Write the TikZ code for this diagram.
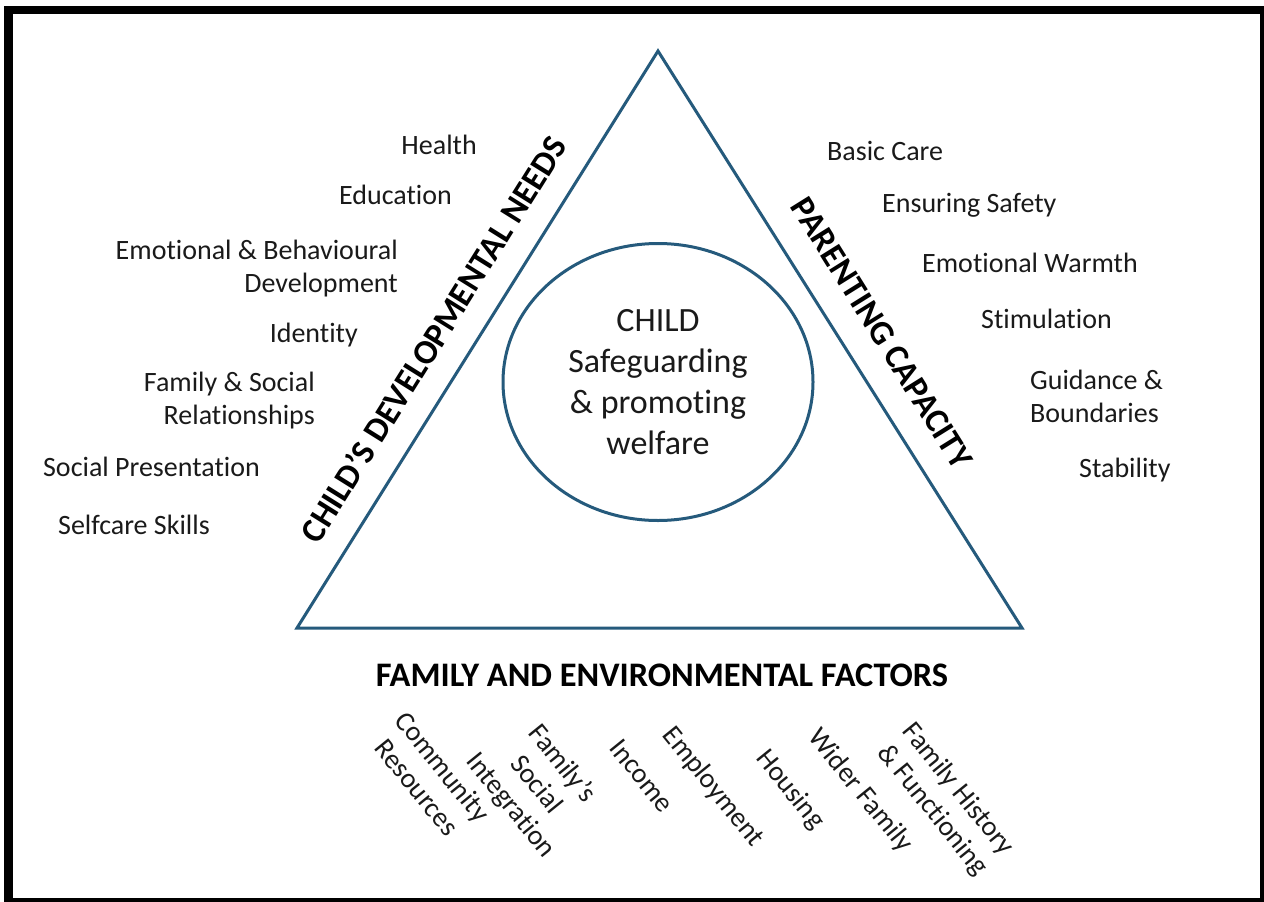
\documentclass[tikz,border=0pt]{standalone}
\usepackage{fontspec}
\setmainfont{Carlito}[Ligatures={NoCommon}]
\usetikzlibrary{shapes.geometric}
\definecolor{triblue}{HTML}{255A7C}
\definecolor{ink}{HTML}{1A1A1A}
\tikzset{
  item/.style={inner sep=0pt, text=ink, font=\fontsize{28}{33}\selectfont},
  itemL/.style={item, anchor=base east, align=right},
  itemR/.style={item, anchor=base west, align=left},
  itemB/.style={item, rotate=-51, align=center},
  heading/.style={inner sep=0pt, text=black, font=\fontsize{34.4}{40}\selectfont\bfseries},
  edge/.style={draw=triblue, line width=3pt, line join=miter},
}
\begin{document}
\begin{tikzpicture}[x=1pt,y=-1pt]
\useasboundingbox (0,0) rectangle (1264,902);
\fill[white] (0,0) rectangle (1264,902);
\fill[black] (4,6) rectangle (1264,902);
\fill[white] (13,14) rectangle (1260,898);

% triangle
\coordinate (A) at (658,51);
\coordinate (B) at (297,628);
\coordinate (C) at (1022,628);
\draw[edge] (A) -- (B) -- (C) -- cycle;

% central ellipse
\node[ellipse, draw=triblue, line width=3pt, minimum width=310pt, minimum height=277pt,
      inner sep=0pt, align=center, text=ink, font=\fontsize{34}{41}\selectfont]
  (child) at (658,382) {CHILD\\Safeguarding\\\& promoting\\welfare};

% side headings
\node[heading, rotate=58] (cdn) at (433,339) {CHILD’S DEVELOPMENTAL NEEDS};
\node[heading, rotate=-58] (pc) at (882,333) {PARENTING CAPACITY};
\node[heading, anchor=base] (fef) at (662,686) {FAMILY AND ENVIRONMENTAL FACTORS};

% child's developmental needs (base = baseline of last line)
\node[itemL] (health) at (477,154) {Health};
\node[itemL] (edu) at (452,204) {Education};
\node[itemL] (emo) at (398,292) {Emotional \& Behavioural\\Development};
\node[itemL] (ident) at (358,342) {Identity};
\node[itemL] (fam) at (315,424) {Family \& Social\\Relationships};
\node[itemL] (socp) at (260,476) {Social Presentation};
\node[itemL] (self) at (210,534) {Selfcare Skills};

% parenting capacity
\node[itemR] (basic) at (827,160) {Basic Care};
\node[itemR] (safe) at (882,212) {Ensuring Safety};
\node[itemR] (warm) at (922,272) {Emotional Warmth};
\node[itemR] (stim) at (981,328) {Stimulation};
\node[itemR] (guid) at (1030,422) {Guidance \&\\Boundaries};
\node[itemR] (stab) at (1079,477) {Stability};

% family and environmental factors
\node[itemB] (comm) at (430,777) {Community\\Resources};
\node[itemB] (fsi) at (536,785) {Family’s\\Social\\Integration};
\node[itemB] (inc) at (642,776) {Income};
\node[itemB] (emp) at (713,787) {Employment};
\node[itemB] (hous) at (790,790) {Housing};
\node[itemB] (wider) at (860,791) {Wider Family};
\node[itemB] (fhist) at (945,800) {Family History\\\& Functioning};
\end{tikzpicture}
\end{document}
